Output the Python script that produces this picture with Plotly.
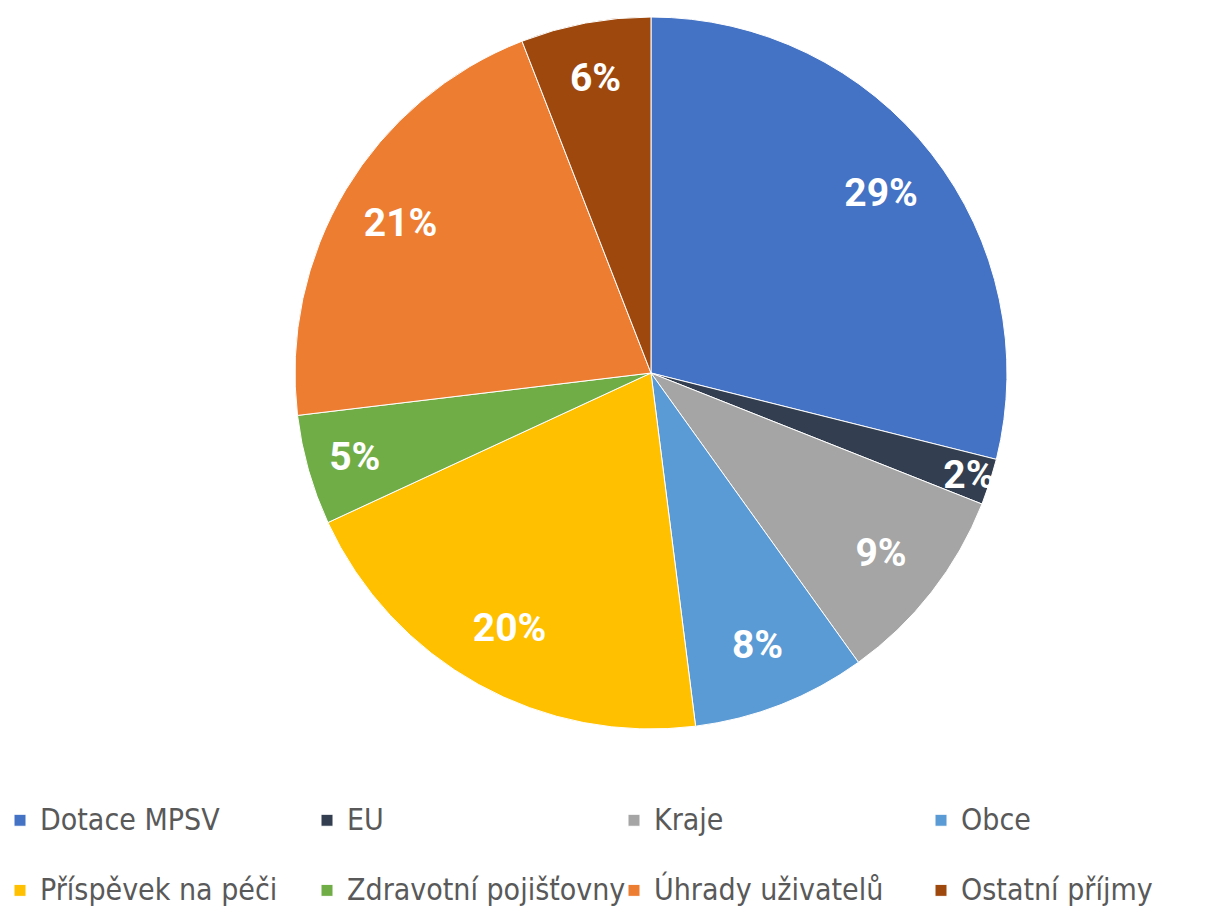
import plotly.graph_objects as go

labels = ["Dotace MPSV", "EU", "Kraje", "Obce", "Příspěvek na péči",
          "Zdravotní pojišťovny", "Úhrady uživatelů", "Ostatní příjmy"]
values = [28.9, 2.1, 9.1, 7.9, 20.1, 5.0, 21.0, 5.9]
colors = ["#4472C4", "#333F50", "#A5A5A5", "#5B9BD5", "#FFC000",
          "#70AD47", "#ED7D31", "#9E480E"]

LEGEND_FONT = "DejaVu Sans Condensed, Liberation Sans Narrow, Arial Narrow, sans-serif"
LABEL_FONT = "Roboto, Liberation Sans, Arial, sans-serif"
LEGEND_TEXT_PX = 30

domain = dict(x=[0.2410, 0.8227], y=[0.198, 0.9813])

# legend text: real label, larger span on first line, blank second line for row spacing
legend_labels = [f"<span style='font-size:{LEGEND_TEXT_PX}px'>{t}</span><br> " for t in labels]

fig = go.Figure()
# coloured slices + legend
fig.add_trace(go.Pie(
    labels=legend_labels,
    values=values,
    sort=False,
    direction="clockwise",
    rotation=0,
    marker=dict(colors=colors, line=dict(color="white", width=1)),
    textinfo="none",
    hovertext=labels,
    hoverinfo="text+percent",
    domain=domain,
))
# percentage labels placed in the outer ring of the same pie
fig.add_trace(go.Pie(
    labels=legend_labels,
    values=values,
    sort=False,
    direction="clockwise",
    rotation=0,
    hole=0.64,
    marker=dict(colors=["rgba(0,0,0,0)"] * len(values), line=dict(width=0)),
    texttemplate="%{percent:.0%}",
    textposition="inside",
    insidetextorientation="horizontal",
    textfont=dict(family=LABEL_FONT, size=39, color="white", weight="bold"),
    showlegend=False,
    hoverinfo="skip",
    domain=domain,
))

fig.update_layout(
    width=1224, height=909,
    margin=dict(l=0, r=0, t=0, b=0, autoexpand=False),
    paper_bgcolor="white",
    uniformtext=dict(minsize=39, mode="show"),
    showlegend=True,
    legend=dict(
        orientation="h",
        x=0, xanchor="left",
        y=0.1232, yanchor="top",
        entrywidth=262, entrywidthmode="pixels",
        valign="top",
        font=dict(family=LEGEND_FONT, size=25.8, color="#595959"),
        traceorder="normal",
    ),
)

fig.write_html("out.html")
